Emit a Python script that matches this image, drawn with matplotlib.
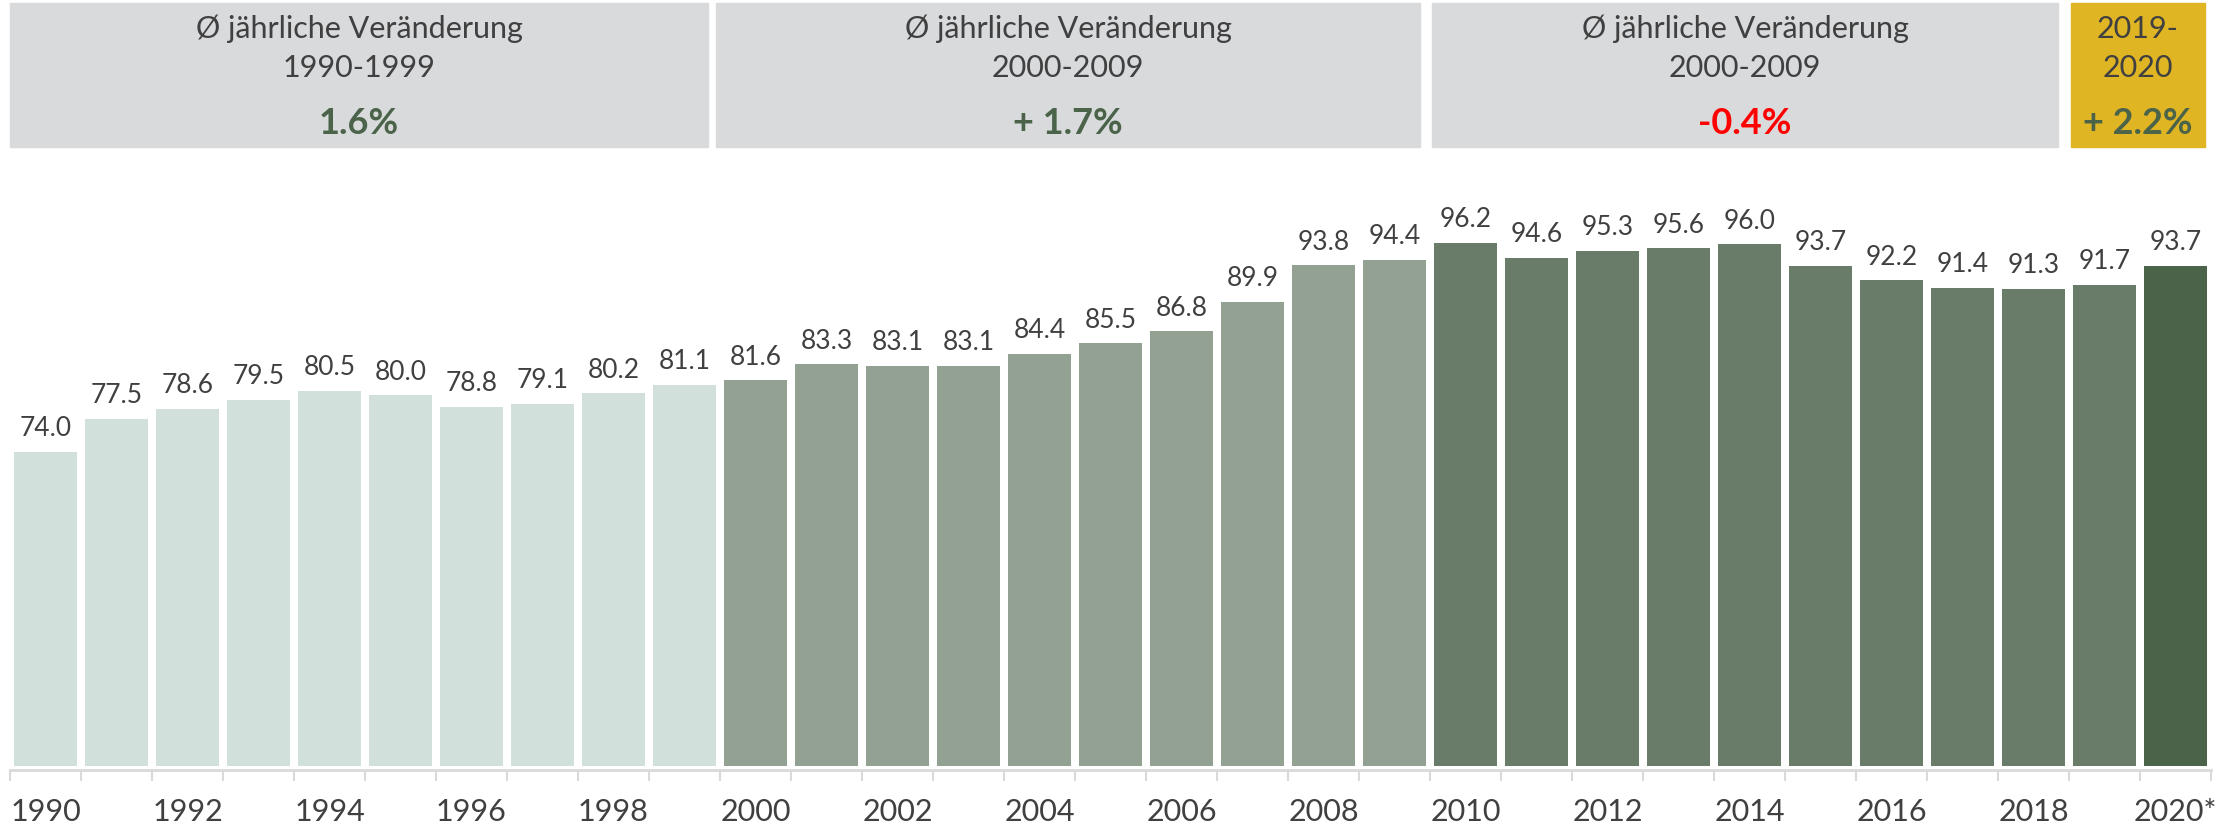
import numpy as np
import matplotlib.pyplot as plt
from matplotlib.patches import Rectangle

plt.rcParams['font.family'] = ['Lato', 'DejaVu Sans']

# Daten
jahre = list(range(1990, 2021))
werte = [74.0, 77.5, 78.6, 79.5, 80.5, 80.0, 78.8, 79.1, 80.2, 81.1,
         81.6, 83.3, 83.1, 83.1, 84.4, 85.5, 86.8, 89.9, 93.8, 94.4,
         96.2, 94.6, 95.3, 95.6, 96.0, 93.7, 92.2, 91.4, 91.3, 91.7,
         93.7]
jahr_labels = [str(j) if j % 2 == 0 else '' for j in jahre]
jahr_labels[-1] = '2020*'

box_titel = ['Ø jährliche Veränderung\n1990-1999',
             'Ø jährliche Veränderung\n2000-2009',
             'Ø jährliche Veränderung\n2000-2009',
             '2019-\n2020']
box_werte = ['1.6%', '+ 1.7%', '-0.4%', '+ 2.2%']

# Farben
c90, c00, c10, c20 = '#D1E0DB', '#92A192', '#687C69', '#4A6349'
farben = [c90 if j < 2000 else c00 if j < 2010 else c10 if j < 2020 else c20 for j in jahre]
txt = '#404040'
box_farben = ['#D9DADC', '#D9DADC', '#D9DADC', '#E0B523']
wert_farben = ['#4A6349', '#4A6349', '#FF0000', '#4A6349']

W, H = 2235, 828
fig = plt.figure(figsize=(W / 100, H / 100), dpi=100)

# Achse in Pixel-Koordinaten
x0, x1 = 10, 2211
y_top, y_bot = 170, 767
ax = fig.add_axes([x0 / W, (H - y_bot) / H, (x1 - x0) / W, (y_bot - y_top) / H])

x = np.arange(len(jahre))
ax.bar(x, werte, width=0.9, color=farben, bottom=0)
ax.set_ylim(40.7, 104)
ax.set_xlim(-0.5, len(jahre) - 0.5)

for xi, v in zip(x, werte):
    ax.annotate(f'{v:.1f}', (xi, v), xytext=(0, 12), textcoords='offset points',
                ha='center', va='baseline', fontsize=19, color=txt)

for s in ['top', 'right', 'left']:
    ax.spines[s].set_visible(False)
ax.spines['bottom'].set_color('#D9D9D9')
ax.spines['bottom'].set_linewidth(2)
ax.spines['bottom'].set_position(('outward', 3))
ax.set_yticks([])
ax.set_xticks(x)
ax.set_xticklabels(jahr_labels, fontsize=22, color=txt)
ax.tick_params(axis='x', which='major', length=0, pad=19)
ax.set_xticks(np.arange(-0.5, len(jahre)), minor=True)
ax.tick_params(axis='x', which='minor', length=8, width=1.5, color='#D9D9D9')

# Kopf-Boxen
boxen = [(10, 708), (716, 1420), (1432, 2058), (2071, 2205)]
by0, by1 = 4, 148
for (bx0, bx1), titel, wert, bf, wf in zip(boxen, box_titel, box_werte, box_farben, wert_farben):
    fig.add_artist(Rectangle((bx0 / W, (H - by1) / H), (bx1 - bx0) / W, (by1 - by0) / H,
                             transform=fig.transFigure, color=bf, zorder=0))
    xc = (bx0 + bx1) / 2 / W
    zeilen = titel.split('\n')
    fig.text(xc, 1 - 29 / H, zeilen[0], ha='center', va='center', fontsize=22, color=txt)
    fig.text(xc, 1 - 68 / H, zeilen[1], ha='center', va='center', fontsize=22, color=txt)
    fig.text(xc, 1 - 124 / H, wert, ha='center', va='center', fontsize=26,
             fontweight='bold', color=wf)

fig.savefig('out.png', dpi=100)
